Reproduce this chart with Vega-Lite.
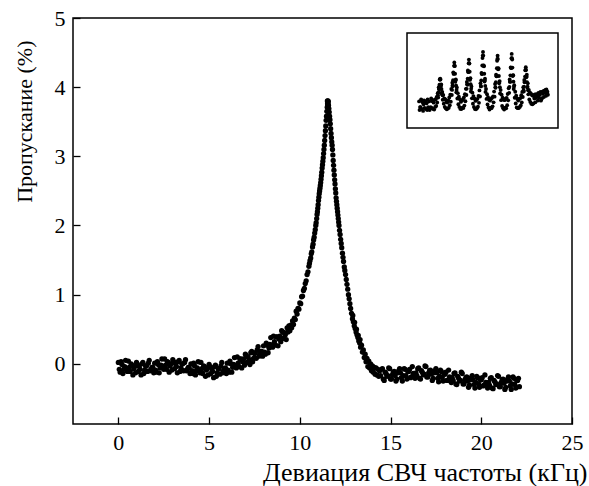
{
"$schema":"https://vega.github.io/schema/vega-lite/v6.json",
"width":499,"height":406,
"autosize":{"type":"none"},
"padding":{"left":73,"top":18,"right":17,"bottom":62},
"background":"white",
"config":{"view":{"stroke":"black","strokeWidth":1.5},
"axis":{"grid":false,"domain":false,"tickColor":"black","tickWidth":1.3,"labelFont":"Liberation Serif","labelFontSize":22,"labelColor":"black","titleFont":"Liberation Serif","titleFontWeight":"normal","titleColor":"black"}},
"datasets":{
"main":[
{"x":0.0,"y":0.02},{"x":0.1,"y":-0.12},{"x":0.2,"y":-0.01},{"x":0.3,"y":-0.08},{"x":0.4,"y":0.05},{"x":0.5,"y":-0.11},{"x":0.6,"y":-0.05},{"x":0.7,"y":0.0},{"x":0.8,"y":-0.16},{"x":0.9,"y":-0.04},
{"x":1.0,"y":0.02},{"x":1.1,"y":-0.11},{"x":1.2,"y":-0.08},{"x":1.3,"y":0.0},{"x":1.4,"y":-0.14},{"x":1.5,"y":-0.03},{"x":1.6,"y":-0.11},{"x":1.7,"y":0.05},{"x":1.8,"y":-0.08},{"x":1.9,"y":-0.05},
{"x":2.0,"y":0.01},{"x":2.1,"y":-0.12},{"x":2.2,"y":-0.01},{"x":2.3,"y":-0.06},{"x":2.4,"y":0.07},{"x":2.5,"y":-0.08},{"x":2.6,"y":-0.02},{"x":2.7,"y":0.03},{"x":2.8,"y":-0.12},{"x":2.9,"y":0.0},
{"x":3.0,"y":0.06},{"x":3.1,"y":-0.07},{"x":3.2,"y":-0.04},{"x":3.3,"y":0.03},{"x":3.4,"y":-0.11},{"x":3.5,"y":0.0},{"x":3.6,"y":-0.10},{"x":3.7,"y":0.06},{"x":3.8,"y":-0.08},{"x":3.9,"y":-0.05},
{"x":4.0,"y":0.0},{"x":4.1,"y":-0.14},{"x":4.2,"y":-0.03},{"x":4.3,"y":-0.10},{"x":4.4,"y":0.03},{"x":4.5,"y":-0.13},{"x":4.6,"y":-0.07},{"x":4.7,"y":-0.03},{"x":4.8,"y":-0.18},{"x":4.9,"y":-0.07},
{"x":5.0,"y":-0.01},{"x":5.1,"y":-0.14},{"x":5.2,"y":-0.11},{"x":5.3,"y":-0.04},{"x":5.4,"y":-0.18},{"x":5.5,"y":-0.07},{"x":5.6,"y":-0.15},{"x":5.7,"y":0.02},{"x":5.8,"y":-0.10},{"x":5.9,"y":-0.06},
{"x":6.0,"y":0.01},{"x":6.1,"y":-0.12},{"x":6.2,"y":0.0},{"x":6.3,"y":-0.05},{"x":6.4,"y":0.09},{"x":6.5,"y":-0.06},{"x":6.6,"y":0.01},{"x":6.7,"y":0.07},{"x":6.8,"y":-0.06},{"x":6.9,"y":0.07},
{"x":7.0,"y":0.14},{"x":7.1,"y":0.02},{"x":7.2,"y":0.06},{"x":7.3,"y":0.16},{"x":7.4,"y":0.03},{"x":7.5,"y":0.15},{"x":7.6,"y":0.08},{"x":7.7,"y":0.25},{"x":7.8,"y":0.14},{"x":7.9,"y":0.18},
{"x":8.0,"y":0.26},{"x":8.1,"y":0.14},{"x":8.2,"y":0.27},{"x":8.3,"y":0.23},{"x":8.4,"y":0.38},{"x":8.5,"y":0.24},{"x":8.6,"y":0.32},{"x":8.7,"y":0.39},{"x":8.8,"y":0.26},{"x":8.9,"y":0.40},
{"x":9.0,"y":0.48},{"x":9.1,"y":0.37},{"x":9.2,"y":0.42},{"x":9.3,"y":0.52},
{"x":0.05,"y":-0.08},{"x":0.15,"y":0.03},{"x":0.25,"y":-0.14},{"x":0.35,"y":-0.04},{"x":0.45,"y":-0.07},{"x":0.55,"y":0.04},{"x":0.65,"y":-0.11},{"x":0.75,"y":-0.02},{"x":0.85,"y":-0.07},{"x":0.95,"y":-0.13},
{"x":1.05,"y":-0.01},{"x":1.15,"y":-0.04},{"x":1.25,"y":-0.16},{"x":1.35,"y":0.02},{"x":1.45,"y":-0.09},{"x":1.55,"y":-0.03},{"x":1.65,"y":0.01},{"x":1.75,"y":-0.10},{"x":1.85,"y":-0.05},{"x":1.95,"y":-0.13},
{"x":2.05,"y":-0.09},{"x":2.15,"y":0.03},{"x":2.25,"y":-0.13},{"x":2.35,"y":-0.02},{"x":2.45,"y":-0.04},{"x":2.55,"y":0.07},{"x":2.65,"y":-0.08},{"x":2.75,"y":0.02},{"x":2.85,"y":-0.03},{"x":2.95,"y":-0.09},
{"x":3.05,"y":0.03},{"x":3.15,"y":0.0},{"x":3.25,"y":-0.13},{"x":3.35,"y":0.05},{"x":3.45,"y":-0.06},{"x":3.55,"y":0.0},{"x":3.65,"y":0.02},{"x":3.75,"y":-0.10},{"x":3.85,"y":-0.05},{"x":3.95,"y":-0.14},
{"x":4.05,"y":-0.10},{"x":4.15,"y":0.01},{"x":4.25,"y":-0.16},{"x":4.35,"y":-0.06},{"x":4.45,"y":-0.09},{"x":4.55,"y":0.02},{"x":4.65,"y":-0.14},{"x":4.75,"y":-0.04},{"x":4.85,"y":-0.09},{"x":4.95,"y":-0.16},
{"x":5.05,"y":-0.04},{"x":5.15,"y":-0.07},{"x":5.25,"y":-0.20},{"x":5.35,"y":-0.02},{"x":5.45,"y":-0.13},{"x":5.55,"y":-0.07},{"x":5.65,"y":-0.03},{"x":5.75,"y":-0.13},{"x":5.85,"y":-0.07},{"x":5.95,"y":-0.14},
{"x":6.05,"y":-0.09},{"x":6.15,"y":0.04},{"x":6.25,"y":-0.12},{"x":6.35,"y":-0.01},{"x":6.45,"y":-0.03},{"x":6.55,"y":0.10},{"x":6.65,"y":-0.04},{"x":6.75,"y":0.07},{"x":6.85,"y":0.03},{"x":6.95,"y":-0.02},
{"x":7.05,"y":0.12},{"x":7.15,"y":0.10},{"x":7.25,"y":-0.01},{"x":7.35,"y":0.18},{"x":7.45,"y":0.08},{"x":7.55,"y":0.16},{"x":7.65,"y":0.20},{"x":7.75,"y":0.11},{"x":7.85,"y":0.18},{"x":7.95,"y":0.11},
{"x":8.05,"y":0.17},{"x":8.15,"y":0.30},{"x":8.25,"y":0.16},{"x":8.35,"y":0.28},{"x":8.45,"y":0.27},{"x":8.55,"y":0.40},{"x":8.65,"y":0.27},{"x":8.75,"y":0.39},{"x":8.85,"y":0.36},{"x":8.95,"y":0.32},
{"x":9.05,"y":0.46},{"x":9.15,"y":0.45},{"x":9.25,"y":0.35},
{"x":9.35,"y":0.46},{"x":9.4,"y":0.55},{"x":9.45,"y":0.48},{"x":9.5,"y":0.56},{"x":9.55,"y":0.52},{"x":9.6,"y":0.62},{"x":9.65,"y":0.57},{"x":9.7,"y":0.66},{"x":9.75,"y":0.64},{"x":9.8,"y":0.76},
{"x":9.85,"y":0.72},{"x":9.9,"y":0.80},{"x":9.95,"y":0.79},{"x":10.0,"y":0.88},{"x":10.05,"y":0.87},{"x":10.1,"y":0.97},{"x":10.15,"y":0.98},{"x":10.2,"y":1.06},{"x":10.25,"y":1.09},{"x":10.3,"y":1.16},
{"x":10.35,"y":1.20},{"x":10.4,"y":1.29},{"x":10.45,"y":1.33},{"x":10.5,"y":1.41},{"x":10.53,"y":1.45},{"x":10.56,"y":1.49},{"x":10.6,"y":1.53},{"x":10.63,"y":1.59},{"x":10.66,"y":1.62},{"x":10.7,"y":1.69},
{"x":10.73,"y":1.73},{"x":10.76,"y":1.79},{"x":10.79,"y":1.83},{"x":10.82,"y":1.89},{"x":10.85,"y":1.94},{"x":10.88,"y":2.0},{"x":10.9,"y":2.04},{"x":10.93,"y":2.1},{"x":10.95,"y":2.16},{"x":10.97,"y":2.2},
{"x":10.99,"y":2.25},{"x":11.01,"y":2.3},{"x":11.03,"y":2.36},{"x":11.05,"y":2.41},{"x":11.07,"y":2.46},{"x":11.09,"y":2.5},{"x":11.11,"y":2.54},{"x":11.13,"y":2.58},{"x":11.15,"y":2.62},{"x":11.17,"y":2.67},
{"x":11.19,"y":2.72},{"x":11.21,"y":2.77},{"x":11.23,"y":2.83},{"x":11.25,"y":2.88},{"x":11.27,"y":2.93},{"x":11.29,"y":2.98},{"x":11.31,"y":3.04},{"x":11.33,"y":3.1},{"x":11.35,"y":3.16},{"x":11.37,"y":3.23},
{"x":11.39,"y":3.3},{"x":11.41,"y":3.37},{"x":11.43,"y":3.44},{"x":11.45,"y":3.52},{"x":11.47,"y":3.58},{"x":11.49,"y":3.65},{"x":11.51,"y":3.71},{"x":11.53,"y":3.76},{"x":11.55,"y":3.8},
{"x":11.54,"y":3.72},{"x":11.56,"y":3.74},{"x":11.52,"y":3.8},{"x":11.57,"y":3.79},
{"x":11.58,"y":3.74},{"x":11.6,"y":3.69},{"x":11.62,"y":3.64},{"x":11.64,"y":3.58},{"x":11.66,"y":3.53},{"x":11.68,"y":3.47},{"x":11.7,"y":3.4},{"x":11.72,"y":3.33},{"x":11.74,"y":3.27},{"x":11.76,"y":3.21},
{"x":11.78,"y":3.16},{"x":11.8,"y":3.1},{"x":11.82,"y":3.02},{"x":11.84,"y":2.94},{"x":11.86,"y":2.87},{"x":11.88,"y":2.8},{"x":11.9,"y":2.73},{"x":11.92,"y":2.66},{"x":11.94,"y":2.6},{"x":11.96,"y":2.53},
{"x":11.98,"y":2.47},{"x":12.0,"y":2.4},{"x":12.02,"y":2.35},{"x":12.04,"y":2.3},{"x":12.06,"y":2.25},{"x":12.08,"y":2.2},{"x":12.1,"y":2.15},{"x":12.12,"y":2.1},{"x":12.14,"y":2.05},{"x":12.16,"y":2.0},
{"x":12.19,"y":1.93},{"x":12.22,"y":1.87},{"x":12.25,"y":1.8},{"x":12.28,"y":1.74},{"x":12.31,"y":1.68},{"x":12.35,"y":1.6},{"x":12.38,"y":1.54},{"x":12.41,"y":1.48},{"x":12.45,"y":1.4},{"x":12.48,"y":1.35},
{"x":12.52,"y":1.29},{"x":12.56,"y":1.22},{"x":12.6,"y":1.15},{"x":12.64,"y":1.08},{"x":12.68,"y":1.0},{"x":12.72,"y":0.94},{"x":12.76,"y":0.87},{"x":12.8,"y":0.8},{"x":12.85,"y":0.73},{"x":12.9,"y":0.65},
{"x":12.95,"y":0.61},{"x":13.0,"y":0.55},{"x":13.05,"y":0.51},{"x":13.1,"y":0.46},{"x":13.15,"y":0.42},{"x":13.2,"y":0.38},{"x":13.25,"y":0.33},{"x":13.3,"y":0.30},
{"x":12.92,"y":0.7},{"x":13.02,"y":0.6},{"x":13.12,"y":0.5},{"x":13.22,"y":0.41},{"x":13.32,"y":0.35},
{"x":13.35,"y":0.24},{"x":13.4,"y":0.27},{"x":13.45,"y":0.17},{"x":13.5,"y":0.2},{"x":13.55,"y":0.09},{"x":13.6,"y":0.14},{"x":13.65,"y":0.03},{"x":13.7,"y":0.08},{"x":13.75,"y":-0.04},{"x":13.8,"y":0.04},
{"x":13.85,"y":-0.06},{"x":13.9,"y":0.0},{"x":13.95,"y":-0.1},{"x":14.0,"y":-0.03},{"x":14.05,"y":-0.12},{"x":14.1,"y":-0.05},{"x":14.15,"y":-0.15},{"x":14.2,"y":-0.06},{"x":14.25,"y":-0.16},{"x":14.3,"y":-0.08},
{"x":14.35,"y":-0.18},{"x":14.4,"y":-0.1},
{"x":14.5,"y":-0.08},{"x":14.6,"y":-0.22},{"x":14.7,"y":-0.12},{"x":14.8,"y":-0.18},{"x":14.9,"y":-0.06},{"x":15.0,"y":-0.22},{"x":15.1,"y":-0.16},{"x":15.2,"y":-0.11},{"x":15.3,"y":-0.25},{"x":15.4,"y":-0.13},
{"x":15.5,"y":-0.07},{"x":15.6,"y":-0.20},{"x":15.7,"y":-0.17},{"x":15.8,"y":-0.08},{"x":15.9,"y":-0.22},{"x":16.0,"y":-0.11},{"x":16.1,"y":-0.20},{"x":16.2,"y":-0.04},{"x":16.3,"y":-0.16},{"x":16.4,"y":-0.13},
{"x":16.5,"y":-0.07},{"x":16.6,"y":-0.21},{"x":16.7,"y":-0.10},{"x":16.8,"y":-0.16},{"x":16.9,"y":-0.03},{"x":17.0,"y":-0.19},{"x":17.1,"y":-0.13},{"x":17.2,"y":-0.09},{"x":17.3,"y":-0.24},{"x":17.4,"y":-0.13},
{"x":17.5,"y":-0.07},{"x":17.6,"y":-0.21},{"x":17.7,"y":-0.18},{"x":17.8,"y":-0.11},{"x":17.9,"y":-0.25},{"x":18.0,"y":-0.15},{"x":18.1,"y":-0.24},{"x":18.2,"y":-0.09},{"x":18.3,"y":-0.22},{"x":18.4,"y":-0.20},
{"x":18.5,"y":-0.14},{"x":18.6,"y":-0.29},{"x":18.7,"y":-0.18},{"x":18.8,"y":-0.25},{"x":18.9,"y":-0.12},{"x":19.0,"y":-0.29},{"x":19.1,"y":-0.23},{"x":19.2,"y":-0.19},{"x":19.3,"y":-0.34},{"x":19.4,"y":-0.23},
{"x":19.5,"y":-0.17},{"x":19.6,"y":-0.30},{"x":19.7,"y":-0.27},{"x":19.8,"y":-0.20},{"x":19.9,"y":-0.34},{"x":20.0,"y":-0.23},{"x":20.1,"y":-0.32},{"x":20.2,"y":-0.16},{"x":20.3,"y":-0.30},{"x":20.4,"y":-0.27},
{"x":20.5,"y":-0.21},{"x":20.6,"y":-0.35},{"x":20.7,"y":-0.24},{"x":20.8,"y":-0.30},{"x":20.9,"y":-0.17},{"x":21.0,"y":-0.33},{"x":21.1,"y":-0.27},{"x":21.2,"y":-0.22},{"x":21.3,"y":-0.37},{"x":21.4,"y":-0.25},
{"x":21.5,"y":-0.19},{"x":21.6,"y":-0.32},{"x":21.7,"y":-0.29},{"x":21.8,"y":-0.21},{"x":21.9,"y":-0.35},{"x":22.0,"y":-0.24},{"x":22.1,"y":-0.33},
{"x":14.45,"y":-0.17},{"x":14.55,"y":-0.07},{"x":14.65,"y":-0.24},{"x":14.75,"y":-0.14},{"x":14.85,"y":-0.17},{"x":14.95,"y":-0.07},{"x":15.05,"y":-0.22},{"x":15.15,"y":-0.12},{"x":15.25,"y":-0.17},{"x":15.35,"y":-0.22},
{"x":15.45,"y":-0.10},{"x":15.55,"y":-0.13},{"x":15.65,"y":-0.25},{"x":15.75,"y":-0.07},{"x":15.85,"y":-0.17},{"x":15.95,"y":-0.11},{"x":16.05,"y":-0.08},{"x":16.15,"y":-0.19},{"x":16.25,"y":-0.14},{"x":16.35,"y":-0.21},
{"x":16.45,"y":-0.17},{"x":16.55,"y":-0.06},{"x":16.65,"y":-0.22},{"x":16.75,"y":-0.12},{"x":16.85,"y":-0.15},{"x":16.95,"y":-0.04},{"x":17.05,"y":-0.19},{"x":17.15,"y":-0.10},{"x":17.25,"y":-0.15},{"x":17.35,"y":-0.21},
{"x":17.45,"y":-0.10},{"x":17.55,"y":-0.13},{"x":17.65,"y":-0.26},{"x":17.75,"y":-0.09},{"x":17.85,"y":-0.20},{"x":17.95,"y":-0.15},{"x":18.05,"y":-0.12},{"x":18.15,"y":-0.24},{"x":18.25,"y":-0.19},{"x":18.35,"y":-0.27},
{"x":18.45,"y":-0.24},{"x":18.55,"y":-0.13},{"x":18.65,"y":-0.30},{"x":18.75,"y":-0.21},{"x":18.85,"y":-0.24},{"x":18.95,"y":-0.14},{"x":19.05,"y":-0.29},{"x":19.15,"y":-0.20},{"x":19.25,"y":-0.25},{"x":19.35,"y":-0.31},
{"x":19.45,"y":-0.20},{"x":19.55,"y":-0.23},{"x":19.65,"y":-0.35},{"x":19.75,"y":-0.18},{"x":19.85,"y":-0.29},{"x":19.95,"y":-0.23},{"x":20.05,"y":-0.20},{"x":20.15,"y":-0.31},{"x":20.25,"y":-0.27},{"x":20.35,"y":-0.35},
{"x":20.45,"y":-0.31},{"x":20.55,"y":-0.20},{"x":20.65,"y":-0.36},{"x":20.75,"y":-0.26},{"x":20.85,"y":-0.29},{"x":20.95,"y":-0.18},{"x":21.05,"y":-0.33},{"x":21.15,"y":-0.23},{"x":21.25,"y":-0.28},{"x":21.35,"y":-0.34},
{"x":21.45,"y":-0.22},{"x":21.55,"y":-0.25},{"x":21.65,"y":-0.37},{"x":21.75,"y":-0.19},{"x":21.85,"y":-0.30},{"x":21.95,"y":-0.24},{"x":22.05,"y":-0.21}
],
"inset":[
{"x":2.4,"y":2.8},{"x":2.5,"y":1.9},{"x":2.6,"y":2.2},{"x":2.7,"y":2.2},{"x":2.8,"y":3.0},{"x":2.9,"y":2.0},{"x":3.0,"y":2.9},{"x":3.1,"y":2.7},{"x":3.2,"y":1.8},{"x":3.3,"y":2.5},
{"x":3.4,"y":2.9},{"x":3.5,"y":2.1},{"x":3.6,"y":2.7},{"x":3.7,"y":2.8},{"x":3.8,"y":2.0},{"x":3.9,"y":2.6},{"x":4.0,"y":1.9},{"x":4.1,"y":3.0},{"x":4.2,"y":2.2},{"x":4.3,"y":2.0},
{"x":4.4,"y":2.8},{"x":4.5,"y":1.9},{"x":4.6,"y":2.1},{"x":4.7,"y":2.2},{"x":4.8,"y":3.1},{"x":4.9,"y":2.1},{"x":5.0,"y":2.9},{"x":5.1,"y":2.8},{"x":5.2,"y":2.0},
{"x":5.3,"y":2.67},{"x":5.4,"y":1.94},{"x":5.5,"y":2.98},{"x":5.6,"y":2.22},{"x":5.7,"y":3.03},{"x":5.8,"y":2.31},{"x":5.9,"y":3.26},{"x":6.0,"y":2.68},{"x":6.1,"y":3.67},{"x":6.2,"y":3.2},
{"x":6.3,"y":4.3},{"x":6.4,"y":4.08},{"x":6.5,"y":5.1},{"x":6.6,"y":5.2},{"x":6.7,"y":4.4},{"x":6.8,"y":4.58},{"x":6.9,"y":3.6},{"x":7.0,"y":3.8},{"x":7.1,"y":2.97},{"x":7.2,"y":3.48},
{"x":7.3,"y":2.56},{"x":7.4,"y":3.11},{"x":7.5,"y":2.23},{"x":7.6,"y":3.02},{"x":7.7,"y":2.08},{"x":7.8,"y":2.74},{"x":7.9,"y":1.97},
{"x":8.0,"y":2.68},{"x":8.1,"y":2.05},{"x":8.2,"y":2.91},{"x":8.3,"y":2.12},{"x":8.4,"y":3.22},{"x":8.5,"y":2.39},{"x":8.6,"y":3.5},{"x":8.7,"y":2.77},{"x":8.8,"y":4.1},{"x":8.9,"y":3.47},
{"x":9.0,"y":4.76},{"x":9.1,"y":4.4},{"x":9.2,"y":5.86},{"x":9.3,"y":5.72},{"x":9.4,"y":6.9},{"x":9.5,"y":6.52},{"x":9.6,"y":4.86},{"x":9.7,"y":5.1},{"x":9.8,"y":3.76},{"x":9.9,"y":4.27},
{"x":10.0,"y":3.1},{"x":10.1,"y":3.67},{"x":10.2,"y":2.5},{"x":10.3,"y":3.29},{"x":10.4,"y":2.22},{"x":10.5,"y":3.02},{"x":10.6,"y":2.01},{"x":10.7,"y":2.75},
{"x":10.8,"y":2.0},{"x":10.9,"y":2.88},{"x":11.0,"y":2.15},{"x":11.1,"y":3.0},{"x":11.2,"y":2.1},{"x":11.3,"y":3.21},{"x":11.4,"y":2.36},{"x":11.5,"y":3.56},{"x":11.6,"y":2.82},{"x":11.7,"y":4.12},
{"x":11.8,"y":3.48},{"x":11.9,"y":4.84},{"x":12.0,"y":4.55},{"x":12.1,"y":6.06},{"x":12.2,"y":5.88},{"x":12.3,"y":7.2},{"x":12.4,"y":6.78},{"x":12.5,"y":5.06},{"x":12.6,"y":5.25},{"x":12.7,"y":3.84},
{"x":12.8,"y":4.38},{"x":12.9,"y":3.12},{"x":13.0,"y":3.72},{"x":13.1,"y":2.56},{"x":13.2,"y":3.36},{"x":13.3,"y":2.21},{"x":13.4,"y":3.1},{"x":13.5,"y":2.0},{"x":13.6,"y":2.85},
{"x":13.7,"y":1.98},{"x":13.8,"y":2.94},{"x":13.9,"y":2.08},{"x":14.0,"y":3.07},{"x":14.1,"y":2.25},{"x":14.2,"y":3.38},{"x":14.3,"y":2.65},{"x":14.4,"y":3.96},{"x":14.5,"y":3.31},{"x":14.6,"y":4.7},
{"x":14.7,"y":4.38},{"x":14.8,"y":5.8},{"x":14.9,"y":5.69},{"x":15.0,"y":7.36},{"x":15.1,"y":8.0},{"x":15.2,"y":6.56},{"x":15.3,"y":6.49},{"x":15.4,"y":4.9},{"x":15.5,"y":5.18},{"x":15.6,"y":3.8},
{"x":15.7,"y":4.11},{"x":15.8,"y":3.06},{"x":15.9,"y":3.55},{"x":16.0,"y":2.48},{"x":16.1,"y":3.25},{"x":16.2,"y":2.17},{"x":16.3,"y":2.98},{"x":16.4,"y":1.94},
{"x":16.5,"y":2.88},{"x":16.6,"y":2.15},{"x":16.7,"y":3.05},{"x":16.8,"y":2.09},{"x":16.9,"y":3.18},{"x":17.0,"y":2.28},{"x":17.1,"y":3.31},{"x":17.2,"y":2.7},{"x":17.3,"y":3.83},{"x":17.4,"y":3.3},
{"x":17.5,"y":4.63},{"x":17.6,"y":4.24},{"x":17.7,"y":5.6},{"x":17.8,"y":5.44},{"x":17.9,"y":7.08},{"x":18.0,"y":7.6},{"x":18.1,"y":6.18},{"x":18.2,"y":6.24},{"x":18.3,"y":4.7},{"x":18.4,"y":4.94},
{"x":18.5,"y":3.63},{"x":18.6,"y":4.0},{"x":18.7,"y":2.93},{"x":18.8,"y":3.5},{"x":18.9,"y":2.31},{"x":19.0,"y":3.18},{"x":19.1,"y":2.08},{"x":19.2,"y":2.99},
{"x":19.3,"y":1.95},{"x":19.4,"y":2.93},{"x":19.5,"y":2.14},{"x":19.6,"y":3.09},{"x":19.7,"y":2.08},{"x":19.8,"y":3.17},{"x":19.9,"y":2.4},{"x":20.0,"y":3.58},{"x":20.1,"y":2.91},{"x":20.2,"y":4.18},
{"x":20.3,"y":3.7},{"x":20.4,"y":5.1},{"x":20.5,"y":4.85},{"x":20.6,"y":6.38},{"x":20.7,"y":6.3},{"x":20.8,"y":7.8},{"x":20.9,"y":7.2},{"x":21.0,"y":5.48},{"x":21.1,"y":5.55},{"x":21.2,"y":4.1},
{"x":21.3,"y":4.5},{"x":21.4,"y":3.18},{"x":21.5,"y":3.81},{"x":21.6,"y":2.58},{"x":21.7,"y":3.4},{"x":21.8,"y":2.17},{"x":21.9,"y":3.08},{"x":22.0,"y":2.09},
{"x":22.1,"y":2.9},{"x":22.2,"y":2.1},{"x":22.3,"y":3.06},{"x":22.4,"y":2.22},{"x":22.5,"y":3.14},{"x":22.6,"y":2.37},{"x":22.7,"y":3.45},{"x":22.8,"y":2.69},{"x":22.9,"y":3.8},{"x":23.0,"y":3.26},
{"x":23.1,"y":4.29},{"x":23.2,"y":3.84},{"x":23.3,"y":5.05},{"x":23.4,"y":4.9},{"x":23.5,"y":6.08},{"x":23.6,"y":6.4},{"x":23.7,"y":5.33},{"x":23.8,"y":5.6},{"x":23.9,"y":4.25},{"x":24.0,"y":4.7},
{"x":24.1,"y":3.54},{"x":24.2,"y":4.0},{"x":24.3,"y":3.0},{"x":24.4,"y":3.75},{"x":24.5,"y":2.75},{"x":24.6,"y":3.65},{"x":24.7,"y":2.54},{"x":24.8,"y":3.48},{"x":24.9,"y":2.5},{"x":25.0,"y":3.4},
{"x":25.1,"y":2.58},{"x":25.2,"y":3.46},{"x":25.3,"y":3.1},{"x":25.4,"y":3.52},{"x":25.5,"y":2.7},{"x":25.6,"y":3.18},{"x":25.7,"y":3.56},{"x":25.8,"y":3.3},{"x":25.9,"y":3.42},{"x":26.0,"y":2.9},
{"x":26.1,"y":3.68},{"x":26.2,"y":3.2},{"x":26.3,"y":3.54},{"x":26.4,"y":3.5},{"x":26.5,"y":3.8},{"x":26.6,"y":2.88},{"x":26.7,"y":3.0},{"x":26.8,"y":3.14},{"x":26.9,"y":3.82},{"x":27.0,"y":3.6},
{"x":27.1,"y":3.88},{"x":27.2,"y":3.26},{"x":27.3,"y":3.94},{"x":27.4,"y":3.7},{"x":27.5,"y":4.0},{"x":27.6,"y":3.38},{"x":27.7,"y":4.06},{"x":27.8,"y":3.6},{"x":27.9,"y":3.82},{"x":28.0,"y":3.5},
{"x":6.55,"y":5.1},{"x":6.65,"y":5.1},{"x":6.45,"y":4.56},{"x":6.75,"y":4.56},{"x":6.35,"y":4.11},{"x":6.85,"y":4.11},{"x":6.25,"y":3.75},{"x":6.95,"y":3.75},{"x":6.15,"y":3.45},{"x":7.05,"y":3.45},
{"x":9.35,"y":6.54},{"x":9.45,"y":6.54},{"x":9.25,"y":5.71},{"x":9.55,"y":5.71},{"x":9.15,"y":5.02},{"x":9.65,"y":5.02},{"x":9.05,"y":4.47},{"x":9.75,"y":4.47},{"x":8.95,"y":4.01},{"x":9.85,"y":4.01},
{"x":12.25,"y":6.81},{"x":12.35,"y":6.81},{"x":12.15,"y":5.93},{"x":12.45,"y":5.93},{"x":12.05,"y":5.19},{"x":12.55,"y":5.19},{"x":11.95,"y":4.61},{"x":12.65,"y":4.61},{"x":11.85,"y":4.12},{"x":12.75,"y":4.12},
{"x":15.05,"y":7.62},{"x":15.15,"y":7.62},{"x":14.95,"y":6.58},{"x":15.25,"y":6.58},{"x":14.85,"y":5.71},{"x":15.35,"y":5.71},{"x":14.75,"y":5.01},{"x":15.45,"y":5.01},{"x":14.65,"y":4.43},{"x":15.55,"y":4.43},
{"x":17.95,"y":7.26},{"x":18.05,"y":7.26},{"x":17.85,"y":6.29},{"x":18.15,"y":6.29},{"x":17.75,"y":5.48},{"x":18.25,"y":5.48},{"x":17.65,"y":4.83},{"x":18.35,"y":4.83},{"x":17.55,"y":4.29},{"x":18.45,"y":4.29},
{"x":20.75,"y":7.35},{"x":20.85,"y":7.35},{"x":20.65,"y":6.36},{"x":20.95,"y":6.36},{"x":20.55,"y":5.54},{"x":21.05,"y":5.54},{"x":20.45,"y":4.88},{"x":21.15,"y":4.88},{"x":20.35,"y":4.33},{"x":21.25,"y":4.33},
{"x":23.55,"y":6.11},{"x":23.65,"y":6.11},{"x":23.45,"y":5.41},{"x":23.75,"y":5.41},{"x":23.35,"y":4.82},{"x":23.85,"y":4.82},{"x":23.25,"y":4.36},{"x":23.95,"y":4.36},{"x":23.15,"y":3.97},{"x":24.05,"y":3.97}
],
"box":[{"x0":0,"x1":30,"y0":0,"y1":10}]
},
"layer":[
{"data":{"name":"main"},
 "mark":{"type":"point","filled":true,"shape":"circle","size":28,"color":"black","opacity":1},
 "encoding":{
  "x":{"field":"x","type":"quantitative","scale":{"domain":[-2.5,25],"nice":false,"zero":false},
   "axis":{"values":[0,5,10,15,20,25],"tickSize":-7,"labelPadding":15,"labelFlush":false,"title":"Девиация СВЧ частоты (кГц)","titleFontSize":26,"titleAnchor":"end","titleX":514,"titlePadding":6}},
  "y":{"field":"y","type":"quantitative","scale":{"domain":[-0.87,5],"nice":false,"zero":false},
   "axis":{"values":[0,1,2,3,4,5],"tickSize":-7,"labelPadding":15,"title":"Пропускание (%)","titleFontSize":22,"titleAnchor":"end","titleY":22,"titlePadding":18}}}},
{"layer":[
 {"data":{"name":"inset"},
  "mark":{"type":"point","filled":true,"shape":"circle","size":15,"color":"black","opacity":1},
  "encoding":{
   "x":{"field":"x","type":"quantitative","scale":{"domain":[0,30],"range":[334,485],"nice":false,"zero":false},"axis":null},
   "y":{"field":"y","type":"quantitative","scale":{"domain":[0,10],"range":[110,15],"nice":false,"zero":false},"axis":null}}},
 {"data":{"name":"box"},
  "mark":{"type":"rect","fill":null,"stroke":"black","strokeWidth":1.5},
  "encoding":{
   "x":{"field":"x0","type":"quantitative"},"x2":{"field":"x1"},
   "y":{"field":"y0","type":"quantitative"},"y2":{"field":"y1"}}}
]}
],
"resolve":{"scale":{"x":"independent","y":"independent"}}
}
